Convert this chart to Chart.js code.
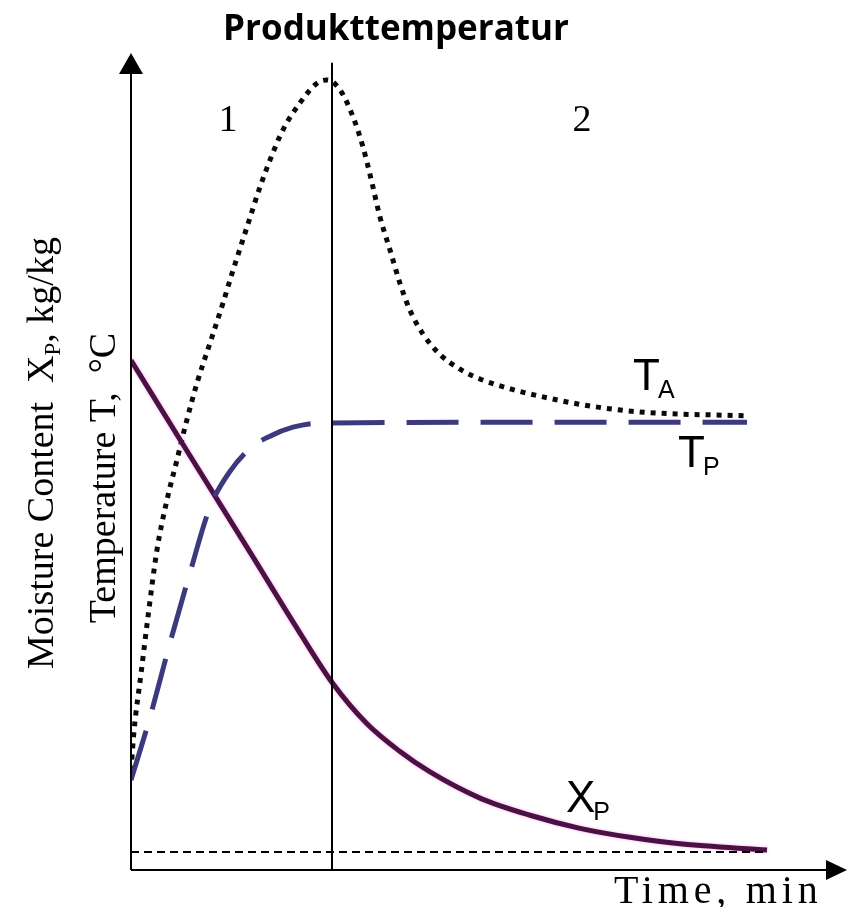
<!DOCTYPE html>
<html>
<head>
<meta charset="utf-8">
<title>Produkttemperatur</title>
<script src="https://cdn.jsdelivr.net/npm/chart.js@4.4.1/dist/chart.umd.min.js"></script>
<style>
	html, body { margin: 0; padding: 0; background: #fff; }
	#wrap { width: 847px; height: 907px; }
</style>
</head>
<body>
<div id="wrap"><canvas id="drying-chart" width="847" height="907"></canvas></div>
<script>
; (function() {

	// air temperature T_A (dotted)
	const taTime = [0, 0.15, 0.5, 0.85, 1.3, 1.8, 2.3, 2.7, 3.3, 3.95, 4.6, 5.1, 5.8, 6.45, 6.95, 7.6, 8.45, 9.3, 9.8,
		10.45, 11.1, 11.6, 12.05, 12.45, 12.95, 13.45, 13.95, 14.6, 15.45, 16.45, 17.45, 19.1, 20.8, 22.45, 24.1, 25.8, 27.45, 29.1, 30.7]
	const taValue = [12.2, 17.0, 24.0, 31.0, 39.2, 45.3, 50.2, 54.2, 59.6, 64.5, 69.4, 73.4, 78.7, 83.6, 86.9, 90.6, 93.9, 96.3, 96.7,
		95.5, 92.2, 88.5, 84.1, 79.9, 75.9, 71.8, 68.5, 65.6, 63.1, 61.3, 60.1, 58.8, 57.8, 57.0, 56.4, 56.0, 55.8, 55.7, 55.6]

	// product temperature T_P (dashed)
	const tpTime = [0, 0.95, 1.95, 2.95, 3.95, 4.95, 5.95, 6.95, 8.1, 9.45, 20, 30.8]
	const tpValue = [11.0, 18.7, 27.8, 36.4, 44.4, 48.8, 51.6, 53.1, 54.2, 54.7, 54.8, 54.8]

	// moisture content X_P (solid)
	const xpTime = [0, 2.95, 5.95, 8.45, 10.1, 11.8, 13.45, 14.95, 17.45, 19.95, 22.45, 24.95, 27.45, 31.8]
	const xpValue = [62.4, 50.7, 38.9, 29.0, 22.8, 17.9, 14.5, 12.0, 8.8, 6.7, 5.1, 4.0, 3.2, 2.45]

	// equilibrium moisture line and the boundary between phase 1 and 2
	const refTime = [0, 31.8]
	const refValue = [2.2, 2.2]
	const divTime = [10.05, 10.05]
	const divValue = [0, 98.8]

	const phaseLabels = ['1', '2']

	function toPoints(xs, ys) {
		return xs.map((x, i) => ({ x: x, y: ys[i] }))
	}

	function drawArrow(ctx, tip, a, b) {
		ctx.beginPath()
		ctx.moveTo(tip[0], tip[1])
		ctx.lineTo(a[0], a[1])
		ctx.lineTo(b[0], b[1])
		ctx.closePath()
		ctx.fill()
	}

	function subLabel(ctx, main, sub, x, y) {
		ctx.textAlign = 'left'
		ctx.textBaseline = 'alphabetic'
		ctx.font = '44px "Liberation Sans", Arial, sans-serif'
		ctx.fillText(main, x, y)
		const w = ctx.measureText(main).width
		ctx.font = '25px "Liberation Sans", Arial, sans-serif'
		ctx.fillText(sub, x + w - 2, y + 8)
	}

	const decorPlugin = {
		id: 'decor',
		beforeDatasetDraw(chart, args) {
			if (args.meta.label === 'X_P') {
				chart.ctx.save()
				chart.ctx.shadowColor = 'rgba(255, 80, 220, 0.55)'
				chart.ctx.shadowBlur = 3
			}
		},
		afterDatasetDraw(chart, args) {
			if (args.meta.label === 'X_P') chart.ctx.restore()
		},
		afterDraw(chart) {
			const ctx = chart.ctx
			const area = chart.chartArea
			const x0 = area.left
			const y0 = area.bottom
			ctx.save()
			ctx.strokeStyle = '#000'
			ctx.fillStyle = '#000'
			ctx.lineWidth = 2
			ctx.setLineDash([])

			// axes with arrow heads
			ctx.beginPath()
			ctx.moveTo(x0, y0)
			ctx.lineTo(x0, area.top + 12)
			ctx.moveTo(x0, y0)
			ctx.lineTo(area.right - 12, y0)
			ctx.stroke()
			drawArrow(ctx, [x0, area.top], [x0 - 12, area.top + 21], [x0 + 12, area.top + 21])
			drawArrow(ctx, [area.right, y0], [area.right - 21, y0 - 10], [area.right - 21, y0 + 10])

			// title
			ctx.textAlign = 'center'
			ctx.textBaseline = 'alphabetic'
			ctx.font = 'bold 35px "Open Sans", sans-serif'
			ctx.fillText('Produkttemperatur', 396, 40)

			// phase numbers
			ctx.font = '38px "Liberation Serif", "Times New Roman", serif'
			ctx.fillText(phaseLabels[0], 228, 131)
			ctx.fillText(phaseLabels[1], 582, 131)

			// curve labels
			subLabel(ctx, 'T', 'A', 633, 390)
			subLabel(ctx, 'T', 'P', 678, 467)
			subLabel(ctx, 'X', 'P', 566, 812)

			// x axis title
			ctx.font = '40px "Liberation Serif", "Times New Roman", serif'
			ctx.textAlign = 'left'
			const xt = 'Time, min'
			const natural = ctx.measureText(xt).width
			ctx.letterSpacing = ((204 - natural) / (xt.length - 1)).toFixed(1) + 'px'
			ctx.fillText(xt, 614, 903)
			ctx.letterSpacing = '0px'

			// y axis titles (rotated)
			const serif = '"Liberation Serif", "Times New Roman", serif'
			ctx.save()
			ctx.translate(53, 453)
			ctx.rotate(-Math.PI / 2)
			ctx.textAlign = 'left'
			const p1 = 'Moisture Content  X'
			const p3 = ', kg/kg'
			ctx.font = '38px ' + serif
			const w1 = ctx.measureText(p1).width
			const w3 = ctx.measureText(p3).width
			ctx.font = '23px ' + serif
			const w2 = ctx.measureText('P').width
			const start = -(w1 + w2 + w3) / 2
			ctx.font = '38px ' + serif
			ctx.fillText(p1, start, 0)
			ctx.font = '23px ' + serif
			ctx.fillText('P', start + w1, 7)
			ctx.font = '38px ' + serif
			ctx.fillText(p3, start + w1 + w2, 0)
			ctx.restore()

			ctx.save()
			ctx.translate(115, 478)
			ctx.rotate(-Math.PI / 2)
			ctx.textAlign = 'center'
			ctx.font = '38px ' + serif
			ctx.fillText('Temperature T,  \u00B0C', 0, 0)
			ctx.restore()

			ctx.restore()
		},
	}

	function getDryingConfig() {
		return {
			type: 'line',
			data: {
				datasets: [
					{
						label: 'reference',
						data: toPoints(refTime, refValue),
						borderColor: '#000',
						borderWidth: 2,
						borderDash: [8, 5],
						pointRadius: 0,
						tension: 0,
					},
					{
						label: 'divider',
						data: toPoints(divTime, divValue),
						borderColor: '#000',
						borderWidth: 2,
						pointRadius: 0,
						tension: 0,
					},
					{
						label: 'T_P',
						data: toPoints(tpTime, tpValue),
						borderColor: '#3c3a7c',
						borderWidth: 5,
						borderDash: [52, 22],
						borderCapStyle: 'butt',
						pointRadius: 0,
						cubicInterpolationMode: 'monotone',
					},
					{
						label: 'X_P',
						data: toPoints(xpTime, xpValue),
						borderColor: '#4a1244',
						borderWidth: 5,
						pointRadius: 0,
						cubicInterpolationMode: 'monotone',
					},
					{
						label: 'T_A',
						data: toPoints(taTime, taValue),
						borderColor: '#0a0a0a',
						borderWidth: 5,
						borderDash: [5, 6],
						borderCapStyle: 'butt',
						pointRadius: 0,
						cubicInterpolationMode: 'monotone',
					},
				],
			},
			options: {
				responsive: false,
				animation: false,
				layout: {
					padding: { left: 131, right: 0, top: 53, bottom: 37 },
				},
				scales: {
					x: { type: 'linear', min: 0, max: 35.8, display: false },
					y: { type: 'linear', min: 0, max: 100, display: false },
				},
				plugins: {
					legend: { display: false },
					tooltip: { enabled: false },
				},
			},
			plugins: [decorPlugin],
		}
	}

	const ctx = document.getElementById('drying-chart')
	let chart = new Chart(ctx, getDryingConfig())
})()
</script>
</body>
</html>
